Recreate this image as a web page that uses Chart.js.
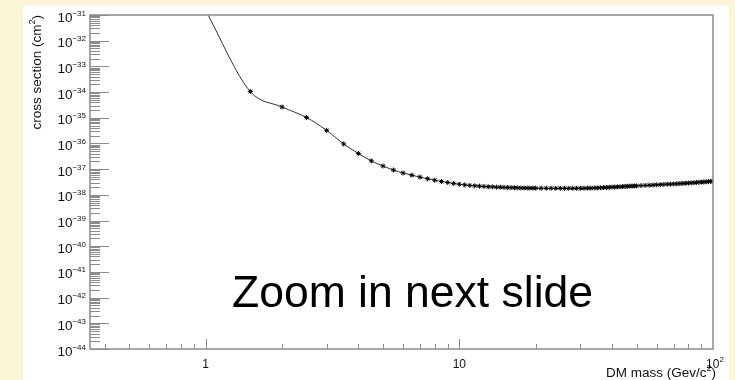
<!DOCTYPE html>
<html>
<head>
<meta charset="utf-8">
<title>cross section vs DM mass</title>
<script src="https://cdn.jsdelivr.net/npm/chart.js@4.4.1/dist/chart.umd.min.js"></script>
<style>
  body { margin: 0; width: 735px; height: 380px; overflow: hidden; background: #fcf6d6; }
  #pad { position: absolute; left: 23px; top: 5px; width: 706px; height: 375px; background: #ffffff; }
</style>
</head>
<body>
<div id="pad"><canvas id="myChart" width="706" height="375"></canvas></div>
<script>
// DM mass (GeV/c^2) and cross section (cm^2)
var masses = [
  1.0, 1.5, 2.0, 2.5, 3.0, 3.5, 4.0, 4.5, 5.0, 5.5, 6.0, 6.5, 7.0, 7.5, 8.0, 8.5, 9.0, 9.5,
  10, 10.5, 11, 11.5, 12, 12.5, 13, 13.5, 14, 14.5, 15, 15.5, 16, 16.5, 17, 17.5, 18, 18.5, 19, 19.5, 20,
  21, 22, 23, 24, 25, 26, 27, 28, 29, 30, 31, 32, 33, 34, 35, 36, 37, 38, 39, 40,
  41, 42, 43, 44, 45, 46, 47, 48, 49, 50,
  52, 54, 56, 58, 60, 62, 64, 66, 68, 70, 72, 74, 76, 78, 80,
  82, 84, 86, 88, 90, 92, 94, 96, 98, 100
];
var xsec = [
  1.5e-31, 1.05e-34, 2.63e-35, 1.02e-35, 3.24e-36, 9.55e-37, 4.07e-37, 2.09e-37, 1.33e-37, 9.23e-38,
  7.08e-38, 5.82e-38, 4.90e-38, 4.22e-38, 3.72e-38, 3.31e-38, 3.02e-38, 2.79e-38,
  2.58e-38, 2.44e-38, 2.33e-38, 2.25e-38, 2.18e-38, 2.12e-38, 2.07e-38, 2.04e-38, 2.00e-38, 1.98e-38,
  1.95e-38, 1.93e-38, 1.91e-38, 1.89e-38, 1.87e-38, 1.86e-38, 1.85e-38, 1.84e-38, 1.83e-38, 1.82e-38, 1.82e-38,
  1.81e-38, 1.81e-38, 1.80e-38, 1.80e-38, 1.80e-38, 1.80e-38, 1.80e-38, 1.80e-38, 1.80e-38, 1.80e-38,
  1.81e-38, 1.82e-38, 1.83e-38, 1.85e-38, 1.87e-38, 1.89e-38, 1.91e-38, 1.94e-38, 1.96e-38, 2.00e-38,
  2.02e-38, 2.05e-38, 2.07e-38, 2.10e-38, 2.12e-38, 2.15e-38, 2.17e-38, 2.19e-38, 2.22e-38, 2.24e-38,
  2.29e-38, 2.33e-38, 2.37e-38, 2.41e-38, 2.45e-38, 2.49e-38, 2.54e-38, 2.58e-38, 2.62e-38, 2.66e-38,
  2.70e-38, 2.75e-38, 2.79e-38, 2.84e-38, 2.88e-38,
  2.93e-38, 2.98e-38, 3.03e-38, 3.08e-38, 3.13e-38, 3.18e-38, 3.24e-38, 3.28e-38, 3.33e-38, 3.38e-38
];

var xMin = 0.35, xMax = 100;
var yExpMin = -44, yExpMax = -31;

var xTickValues = [1, 10, 100];
var xTickBase = ["1", "10", "10"];
var xTickPower = ["", "", "2"];
var yTickExponents = [-31, -32, -33, -34, -35, -36, -37, -38, -39, -40, -41, -42, -43, -44];

var xTitle = ["DM mass (Gev/c", "2", ")"];
var yTitle = ["cross section (cm", "2", ")"];
var note = "Zoom in next slide";

var points = [];
for (var i = 0; i < masses.length; i++) {
  points.push({ x: masses[i], y: xsec[i] });
}

var fam = "'Liberation Sans', Arial, Helvetica, sans-serif";

function drawTitle(ctx, parts, size, x, y) {
  // text + superscript + text, left aligned at x, baseline y
  ctx.font = size + "px " + fam;
  var w0 = ctx.measureText(parts[0]).width;
  ctx.fillText(parts[0], x, y);
  ctx.font = Math.round(size * 0.7) + "px " + fam;
  var w1 = ctx.measureText(parts[1]).width;
  ctx.fillText(parts[1], x + w0, y - size * 0.42);
  ctx.font = size + "px " + fam;
  ctx.fillText(parts[2], x + w0 + w1, y);
}

function titleWidth(ctx, parts, size) {
  ctx.font = size + "px " + fam;
  var w = ctx.measureText(parts[0]).width + ctx.measureText(parts[2]).width;
  ctx.font = Math.round(size * 0.7) + "px " + fam;
  return w + ctx.measureText(parts[1]).width;
}

var rootAxes = {
  id: "rootAxes",
  afterDatasetsDraw: function(chart) {
    var ctx = chart.ctx;
    var a = chart.chartArea;
    var xs = chart.scales.x;
    var ys = chart.scales.y;
    ctx.save();

    // y ticks, inside the frame
    ctx.strokeStyle = "#8a8a8a";
    ctx.lineWidth = 1;
    ctx.beginPath();
    for (var e = yExpMin; e <= yExpMax; e++) {
      var py = Math.round(ys.getPixelForValue(Math.pow(10, e))) + 0.5;
      ctx.moveTo(a.left, py);
      ctx.lineTo(a.left + 19, py);
      if (e < yExpMax) {
        for (var k = 2; k < 10; k++) {
          var my = Math.round(ys.getPixelForValue(k * Math.pow(10, e))) + 0.5;
          ctx.moveTo(a.left, my);
          ctx.lineTo(a.left + 10, my);
        }
      }
    }
    // x ticks
    for (var d = -1; d <= 1; d++) {
      for (var k2 = 1; k2 < 10; k2++) {
        var v = k2 * Math.pow(10, d);
        if (v < xMin || v > xMax) continue;
        var px = Math.round(xs.getPixelForValue(v)) + 0.5;
        ctx.moveTo(px, a.bottom);
        ctx.lineTo(px, a.bottom - (k2 == 1 ? 10 : 5));
      }
    }
    ctx.stroke();

    // frame
    ctx.strokeStyle = "#8c8c8c";
    ctx.lineWidth = 1.5;
    ctx.strokeRect(a.left, a.top, a.right - a.left, a.bottom - a.top);

    ctx.fillStyle = "#111";
    ctx.textBaseline = "alphabetic";

    // y tick labels: 10 with exponent
    for (var j = 0; j < yTickExponents.length; j++) {
      var ey = yTickExponents[j];
      var ty = ys.getPixelForValue(Math.pow(10, ey));
      var expTxt = "\u2212" + Math.abs(ey);
      ctx.font = "8px " + fam;
      var we = ctx.measureText(expTxt).width;
      var right = a.left - 4;
      ctx.textAlign = "left";
      ctx.fillText(expTxt, right - we, ty + 0.5);
      ctx.font = "13.5px " + fam;
      ctx.textAlign = "right";
      ctx.fillText("10", right - we, ty + 6.5);
    }

    // x tick labels
    for (var n = 0; n < xTickValues.length; n++) {
      var tx = xs.getPixelForValue(xTickValues[n]);
      var ly = a.bottom + 15;
      ctx.font = "12px " + fam;
      var wb = ctx.measureText(xTickBase[n]).width;
      ctx.font = "8px " + fam;
      var wp = xTickPower[n] ? ctx.measureText(xTickPower[n]).width : 0;
      var x0 = tx - (wb + wp) / 2 + (wp ? 2 : 0);
      ctx.textAlign = "left";
      ctx.font = "12px " + fam;
      ctx.fillText(xTickBase[n], x0, ly + 4);
      if (wp) {
        ctx.font = "8px " + fam;
        ctx.fillText(xTickPower[n], x0 + wb, ly - 2);
      }
    }

    // axis titles
    ctx.textAlign = "left";
    var wx = titleWidth(ctx, xTitle, 13.5);
    drawTitle(ctx, xTitle, 13.5, a.right + 3 - wx, a.bottom + 28);

    var wy = titleWidth(ctx, yTitle, 13.5);
    ctx.translate(a.left - 49, a.top);
    ctx.rotate(-Math.PI / 2);
    drawTitle(ctx, yTitle, 13.5, -wy, 0);
    ctx.restore();

    // slide note
    ctx.save();
    ctx.fillStyle = "#000";
    ctx.font = "44.5px " + fam;
    ctx.textAlign = "left";
    ctx.textBaseline = "alphabetic";
    ctx.fillText(note, 209, 301.7);
    ctx.restore();
  }
};

new Chart("myChart", {
  type: "scatter",
  data: {
    datasets: [{
      data: points,
      showLine: true,
      borderColor: "#333",
      borderWidth: 1,
      cubicInterpolationMode: "monotone",
      pointStyle: "star",
      pointRadius: 2.5,
      pointBorderColor: "#000",
      pointBackgroundColor: "#000",
      pointBorderWidth: 1,
      clip: 0
    }]
  },
  options: {
    responsive: false,
    animation: false,
    devicePixelRatio: 1,
    layout: { padding: { left: 67, top: 10, right: 16, bottom: 31 } },
    plugins: {
      legend: { display: false },
      tooltip: { enabled: false }
    },
    scales: {
      x: { type: "logarithmic", min: xMin, max: xMax, display: false },
      y: { type: "logarithmic", min: Math.pow(10, yExpMin), max: Math.pow(10, yExpMax), display: false }
    }
  },
  plugins: [rootAxes]
});
</script>
</body>
</html>
